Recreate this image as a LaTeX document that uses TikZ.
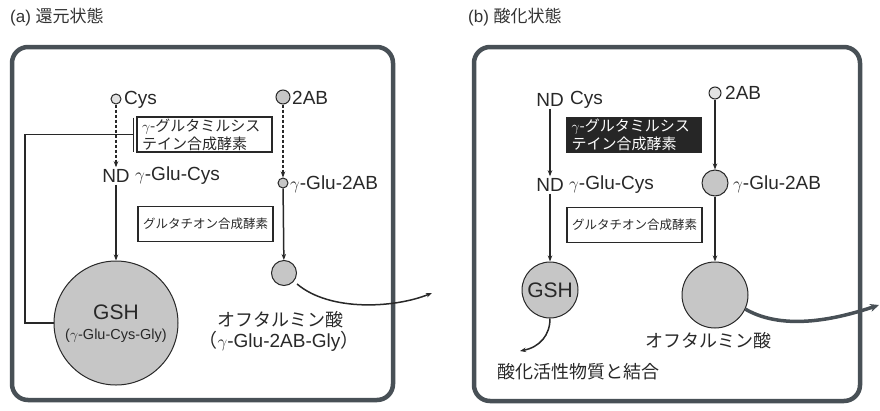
\documentclass[tikz,border=0pt]{standalone}
\usepackage{fontspec}
\setmainfont{Liberation Sans}
\newfontfamily\jp{Noto Sans CJK JP}
\usetikzlibrary{arrows.meta}
\definecolor{bordercol}{RGB}{72,80,86}
\definecolor{inkcol}{RGB}{40,40,40}
\definecolor{fillcol}{RGB}{198,198,198}
\newcommand{\myfs}[1]{\fontsize{#1}{#1}\selectfont}
\begin{document}
\begin{tikzpicture}[x=1pt,y=-1pt,
  panel/.style={draw=bordercol, line width=4.5pt, rounded corners=16pt},
  lbl/.style={font=\myfs{19}, text=inkcol, inner sep=2pt},
  jlbl/.style={font=\jp\myfs{18}, text=inkcol, inner sep=0pt},
  enz/.style={draw=inkcol, line width=1.3pt, font=\jp\fontsize{15}{18}\selectfont, align=left, text=inkcol, inner sep=0pt, minimum width=135pt, minimum height=35pt, text width=125pt},
  enzdark/.style={enz, fill=black!85, text=white},
  enzsmall/.style={enz, font=\jp\myfs{12.5}},
  mol/.style={circle, draw=inkcol, line width=1pt, fill=fillcol, inner sep=0pt, text=inkcol},
  flow/.style={-{Stealth[length=6pt,width=4.5pt]}, draw=inkcol, line width=1.5pt},
  dflow/.style={flow, dash pattern=on 3pt off 2pt, line width=2.2pt},
  inhib/.style={-{Bar[width=34pt,line width=1.6pt]}, draw=inkcol, line width=1.5pt, shorten >=2pt},
  ttl/.style={font=\myfs{17}, text=black!80, anchor=west, inner sep=0pt}
]
\useasboundingbox (0,0) rectangle (880,410);
% titles
\node[ttl] (ta) at (10,17) {(a) {\jp 還元状態}};
\node[ttl] (tb) at (468,17) {(b) {\jp 酸化状態}};
% panels
\draw[panel] (12,47) rectangle (393,400);
\draw[panel] (474,47) rectangle (860,401);

% ---------- (a) ----------
\node[mol, minimum size=10pt, fill=fillcol!50] (cysA) at (116,99) {};
\node[lbl, anchor=west] (cysAt) at (122,100) {Cys};
\node[lbl] (ndA) at (116,176) {ND};
\node[lbl, anchor=west] (gcA) at (133,176) {$\gamma$-Glu-Cys};
\node[enz] (e1A) at (204.5,134.5) {$\gamma$-グルタミルシス\\テイン合成酵素};
\node[enzsmall] (e2A) at (205.5,224) {グルタチオン合成酵素};
\node[mol, minimum size=124pt] (gshA) at (116,323) {};
\node[font=\myfs{21}, text=inkcol, inner sep=0pt] (gshAt) at (116,312) {GSH};
\node[font=\myfs{14.5}, text=inkcol, inner sep=0pt] (gshAf) at (116,336) {($\gamma$-Glu-Cys-Gly)};
\node[mol, minimum size=14pt] (abA) at (283,97) {};
\node[lbl, anchor=west] (abAt) at (290,98) {2AB};
\node[mol, minimum size=10pt] (gaA) at (283,183) {};
\node[lbl, anchor=west] (gaAt) at (288,184) {$\gamma$-Glu-2AB};
\node[mol, minimum size=25pt] (ophA) at (284,273) {};
\node[jlbl] (ophAt) at (280,320) {オフタルミン酸};
\node[lbl, inner sep=0pt] (ophAf) at (279,341) {{\jp （}$\gamma$-Glu-2AB-Gly{\jp ）}};
\coordinate (loopA) at (25,134.5);
\coordinate (outA) at (432,293);

\draw[dflow] (cysA) -- (ndA);
\draw[flow] (ndA) -- (gshA);
\draw[dflow] (abA) -- (gaA);
\draw[flow] (gaA) -- (ophA);
\draw[inhib] (gshA.west) -| (loopA) -- (e1A.west);
\draw[flow, shorten <=4pt] (ophA.-40) .. controls (330,312) and (395,308) .. (outA);

% ---------- (b) ----------
\node[lbl] (ndB) at (550,100) {ND};
\node[lbl, anchor=west] (cysBt) at (568,100) {Cys};
\node[lbl] (ndB2) at (550,185) {ND};
\node[lbl, anchor=west] (gcB) at (567,185) {$\gamma$-Glu-Cys};
\node[enzdark] (e1B) at (634,135) {$\gamma$-グルタミルシス\\テイン合成酵素};
\node[enzsmall] (e2B) at (634.5,225) {グルタチオン合成酵素};
\node[mol, minimum size=56pt, font=\myfs{21}] (gshB) at (550,290) {GSH};
\node[mol, minimum size=12pt, fill=fillcol!50] (abB) at (715,93) {};
\node[lbl, anchor=west] (abBt) at (723,93) {2AB};
\node[mol, minimum size=26pt] (gaB) at (715,183) {};
\node[lbl, anchor=west] (gaBt) at (731,184) {$\gamma$-Glu-2AB};
\node[mol, minimum size=66pt] (ophB) at (715,295) {};
\node[jlbl] (ophBt) at (708,341) {オフタルミン酸};
\node[jlbl] (bindBt) at (578,372) {酸化活性物質と結合};
\coordinate (bindB) at (520,351);
\coordinate (outB) at (879,305);

\draw[flow, line width=1.2pt] (ndB) -- (ndB2);
\draw[flow] (ndB2) -- (gshB);
\draw[flow, line width=1.2pt] (abB) -- (gaB);
\draw[flow] (gaB) -- (ophB);
\draw[flow] (gshB.south) .. controls (550,335) and (540,347) .. (bindB);
\draw[-{Stealth[length=9pt,width=8pt]}, draw=bordercol, line width=3.5pt] (ophB.-25) .. controls (785,332) and (840,318) .. (outB);
\end{tikzpicture}
\end{document}
